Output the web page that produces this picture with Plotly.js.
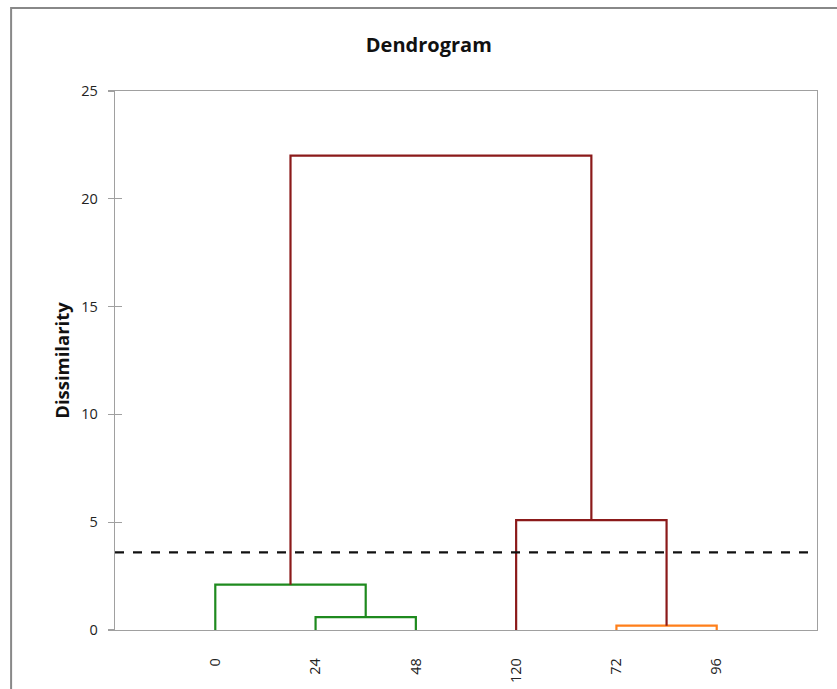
<!DOCTYPE html>
<html>
<head>
<meta charset="utf-8">
<script src="https://cdn.plot.ly/plotly-3.0.1.min.js"></script>
<style>html,body{margin:0;padding:0;background:#fff;}#chart{width:837px;height:689px;}</style>
</head>
<body>
<div id="chart"></div>
<script>
// Leaf order and labels
const leafLabels = ['0', '24', '48', '120', '72', '96'];
const leafPos = [1, 2, 3, 4, 5, 6];
// Merges: [left child, right child, height, colour]; children: 'L<i>' leaf index or 'M<j>' merge index
const mergeLeft = ['L1', 'L4', 'L0', 'L3', 'M2'];
const mergeRight = ['L2', 'L5', 'M0', 'M1', 'M3'];
const mergeHeight = [0.6, 0.2, 2.1, 5.1, 22.0];
const mergeColor = ['#1e8a1e', '#ff7f1a', '#1e8a1e', '#8b1a1a', '#8b1a1a'];
const cutLevel = 3.6;
const yTicks = [0, 5, 10, 15, 20, 25];

const nodeX = {}, nodeY = {};
leafPos.forEach((p, i) => { nodeX['L' + i] = p; nodeY['L' + i] = 0; });
const traces = [];
mergeHeight.forEach((h, j) => {
  const a = mergeLeft[j], b = mergeRight[j];
  const xl = nodeX[a], xr = nodeX[b];
  traces.push({
    x: [xl, xl, xr, xr],
    y: [nodeY[a], h, h, nodeY[b]],
    mode: 'lines', type: 'scatter', hoverinfo: 'skip',
    line: {color: mergeColor[j], width: 2.2},
    showlegend: false
  });
  nodeX['M' + j] = (xl + xr) / 2;
  nodeY['M' + j] = h;
});
// invisible trace to activate the overlay axis carrying inner tick marks
traces.push({x: [0], y: [0], yaxis: 'y2', mode: 'markers', marker: {opacity: 0}, hoverinfo: 'skip', showlegend: false});

const layout = {
  width: 837, height: 689,
  margin: {l: 115, r: 20, t: 91, b: 59},
  paper_bgcolor: '#ffffff', plot_bgcolor: '#ffffff',
  font: {family: 'Open Sans, Liberation Sans, sans-serif', color: '#222'},
  title: {text: '<b>Dendrogram</b>', x: 0.447, xref: 'paper', xanchor: 'center', y: 0.935, yref: 'container', yanchor: 'middle', font: {size: 20, color: '#111'}},
  xaxis: {
    range: [0, 7], tickvals: leafPos, ticktext: leafLabels, tickangle: -90,
    showgrid: false, zeroline: false, showline: true, linecolor: '#a0a0a0', linewidth: 1.3,
    mirror: true, ticks: '', ticklabelstandoff: 21, tickfont: {size: 14.5, color: '#222'}, fixedrange: true
  },
  yaxis: {
    range: [0, 25], tickvals: yTicks, showgrid: false, zeroline: false,
    showline: true, linecolor: '#a0a0a0', linewidth: 1.3, mirror: true,
    ticks: 'outside', ticklen: 6, tickcolor: '#a0a0a0', tickwidth: 1.2,
    ticklabelstandoff: 7, tickfont: {size: 14.5, color: '#222'},
    title: {text: '<b>Dissimilarity</b>', font: {size: 18.5, color: '#111'}, standoff: 6}
  },
  yaxis2: {
    range: [0, 25], tickvals: yTicks, overlaying: 'y', side: 'left',
    showgrid: false, zeroline: false, showline: false, showticklabels: false,
    ticks: 'inside', ticklen: 7, tickcolor: '#a0a0a0', tickwidth: 1.2
  },
  shapes: [
    {type: 'line', xref: 'paper', yref: 'y', x0: 0, x1: 1, y0: cutLevel, y1: cutLevel,
     line: {color: '#111', width: 2.2, dash: 'dash'}},
    {type: 'rect', xref: 'paper', yref: 'paper', x0: -0.148, x1: 1.2, y0: -0.3, y1: 1.154,
     line: {color: '#888', width: 2}, fillcolor: 'rgba(0,0,0,0)', layer: 'below'}
  ]
};
Plotly.newPlot('chart', traces, layout, {displayModeBar: false, staticPlot: true});
</script>
</body>
</html>
